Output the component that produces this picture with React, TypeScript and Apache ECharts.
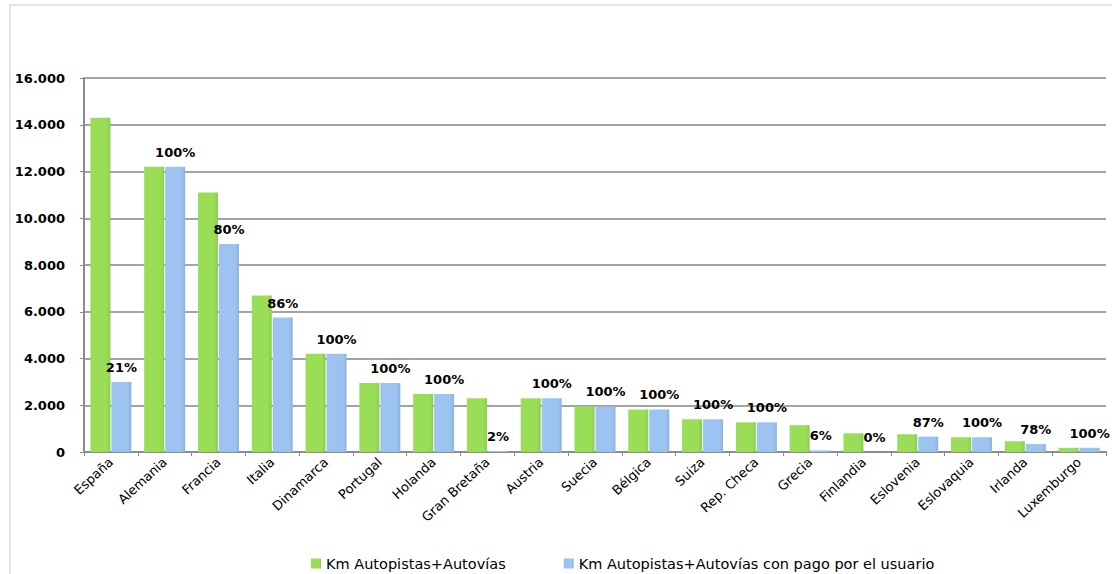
import React, { useEffect, useRef } from "react";
import * as echarts from "echarts";

const categories = [
  "España", "Alemania", "Francia", "Italia", "Dinamarca", "Portugal", "Holanda",
  "Gran Bretaña", "Austria", "Suecia", "Bélgica", "Suiza", "Rep. Checa", "Grecia",
  "Finlandia", "Eslovenia", "Eslovaquia", "Irlanda", "Luxemburgo",
];
const totalKm = [14300, 12200, 11100, 6700, 4200, 2950, 2480, 2300, 2300, 1950, 1820, 1400, 1270, 1150, 800, 760, 630, 460, 180];
const pagoKm = [3000, 12200, 8900, 5750, 4200, 2950, 2480, 45, 2300, 1950, 1820, 1400, 1270, 70, 0, 660, 630, 340, 180];
const pctLabels = ["21%", "100%", "80%", "86%", "100%", "100%", "100%", "2%", "100%", "100%", "100%", "100%", "100%", "6%", "0%", "87%", "100%", "78%", "100%"];
const yTicks = [0, 2000, 4000, 6000, 8000, 10000, 12000, 14000, 16000];

const seriesNames = ["Km Autopistas+Autovías", "Km Autopistas+Autovías con pago por el usuario"];

export default function App() {
  const ref = useRef<HTMLDivElement>(null);
  useEffect(() => {
    if (!ref.current) return;
    const chart = echarts.init(ref.current, undefined, { renderer: "svg" });
    const green = new echarts.graphic.LinearGradient(0, 0, 1, 0, [
      { offset: 0, color: "#9ade58" },
      { offset: 0.8, color: "#9ade58" },
      { offset: 1, color: "#8ccb4f" },
    ]);
    const blue = new echarts.graphic.LinearGradient(0, 0, 1, 0, [
      { offset: 0, color: "#9dc3f1" },
      { offset: 0.8, color: "#9dc3f1" },
      { offset: 1, color: "#8fb2dc" },
    ]);
    chart.setOption({
      animation: false,
      textStyle: { fontFamily: "DejaVu Sans" },
      graphic: [
        {
          type: "rect",
          z: -10,
          shape: { x: 10, y: 5, width: 1200, height: 700 },
          style: { fill: "none", stroke: "#e4e4e4", lineWidth: 2 },
        },
      ],
      grid: { left: 84, right: 6, top: 78, bottom: 122 },
      legend: {
        left: 306,
        top: 551,
        itemWidth: 10,
        itemHeight: 10,
        itemGap: 58,
        icon: "rect",
        textStyle: { fontSize: 14.5, color: "#000", fontFamily: "DejaVu Sans" },
        data: seriesNames,
      },
      xAxis: {
        type: "category",
        data: categories,
        axisLine: { lineStyle: { color: "#8c8c8c", width: 2 } },
        axisTick: { show: true, length: 4, lineStyle: { color: "#8c8c8c" } },
        axisLabel: {
          rotate: 43,
          fontSize: 13,
          color: "#000",
          margin: 8,
          interval: 0,
          fontFamily: "DejaVu Sans",
        },
      },
      yAxis: {
        type: "value",
        min: 0,
        max: 16000,
        interval: 2000,
        axisLine: { show: true, lineStyle: { color: "#8c8c8c", width: 2 } },
        axisTick: { show: true, length: 4, lineStyle: { color: "#8c8c8c" } },
        splitLine: { lineStyle: { color: "#a3a3a3", width: 2 } },
        axisLabel: {
          margin: 19,
          fontSize: 13,
          fontWeight: "bold",
          color: "#000",
          fontFamily: "DejaVu Sans",
          formatter: (v: number) => (yTicks.includes(v) ? v.toLocaleString("de-DE") : ""),
        },
      },
      series: [
        {
          name: seriesNames[0],
          type: "bar",
          data: totalKm,
          barWidth: 20,
          barGap: "5%",
          itemStyle: { color: green },
        },
        {
          name: seriesNames[1],
          type: "bar",
          data: pagoKm,
          barWidth: 20,
          itemStyle: { color: blue },
          label: {
            show: true,
            position: "top",
            distance: 8,
            fontSize: 13,
            fontWeight: "bold",
            color: "#000",
            fontFamily: "DejaVu Sans",
            formatter: (p: any) => pctLabels[p.dataIndex],
          },
        },
      ],
    });
    return () => chart.dispose();
  }, []);
  return (
    <div
      ref={ref}
      style={{ position: "absolute", left: 0, top: 0, width: 1112, height: 574, background: "#fff" }}
    />
  );
}
